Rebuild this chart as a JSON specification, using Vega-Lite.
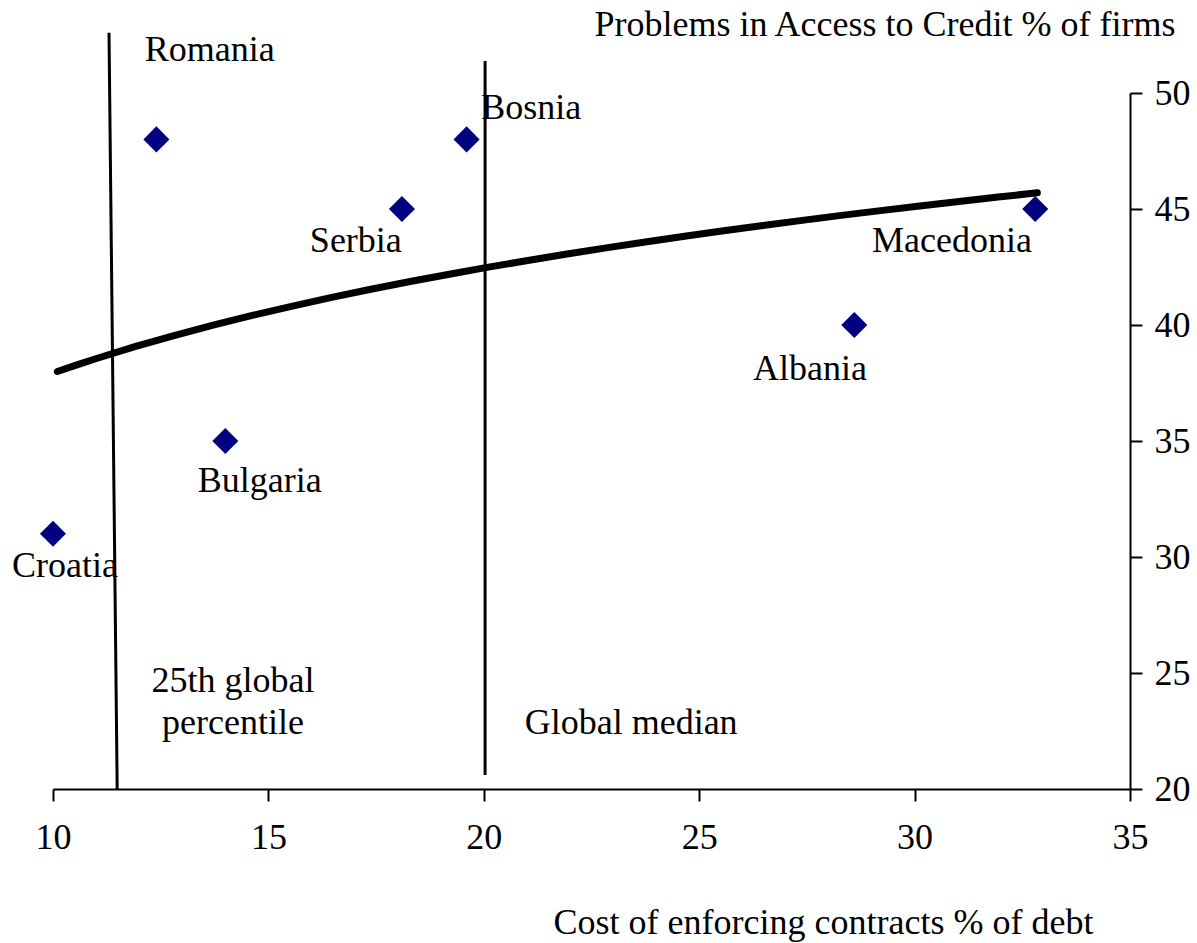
{
  "$schema": "https://vega.github.io/schema/vega-lite/v6.json",
  "width": 1077,
  "height": 696,
  "autosize": "none",
  "padding": {"left": 53, "top": 93, "right": 67, "bottom": 154},
  "background": "white",
  "config": {
    "view": {"stroke": null},
    "font": "Liberation Serif",
    "axis": {"grid": false, "domainColor": "black", "domainWidth": 2, "tickColor": "black", "tickWidth": 2, "tickSize": 12, "labelFont": "Liberation Serif", "labelFontSize": 36, "labelColor": "black", "labelFlush": false, "labelOverlap": false, "titleFont": "Liberation Serif", "titleFontSize": 36, "titleFontWeight": "normal", "titleColor": "black"}
  },
  "datasets": {
    "pts": [
      {"country": "Romania", "cost": 12.4, "credit": 48},
      {"country": "Bosnia", "cost": 19.6, "credit": 48},
      {"country": "Serbia", "cost": 18.1, "credit": 45},
      {"country": "Macedonia", "cost": 32.8, "credit": 45},
      {"country": "Albania", "cost": 28.6, "credit": 40},
      {"country": "Bulgaria", "cost": 14.0, "credit": 35},
      {"country": "Croatia", "cost": 10.0, "credit": 31}
    ],
    "labels": [
      {"text": "Romania", "lx": 13.64, "ly": 51.85},
      {"text": "Bosnia", "lx": 21.1, "ly": 49.35},
      {"text": "Serbia", "lx": 17.03, "ly": 43.62},
      {"text": "Macedonia", "lx": 30.87, "ly": 43.62},
      {"text": "Albania", "lx": 27.57, "ly": 38.1},
      {"text": "Bulgaria", "lx": 14.8, "ly": 33.28},
      {"text": "Croatia", "lx": 10.28, "ly": 29.61},
      {"text": "25th global", "lx": 14.18, "ly": 24.66},
      {"text": "percentile", "lx": 14.18, "ly": 22.84},
      {"text": "Global median", "lx": 23.42, "ly": 22.84}
    ],
    "refs": [
      {"name": "25th global percentile", "xa": 11.3, "ya": 52.6, "xb": 11.49, "yb": 20},
      {"name": "Global median", "xa": 20.03, "ya": 51.38, "xb": 20.03, "yb": 20.6}
    ]
  },
  "layer": [
    {
      "data": {"name": "refs"},
      "mark": {"type": "rule", "color": "black", "strokeWidth": 3},
      "encoding": {
        "x": {"field": "xa", "type": "quantitative", "scale": {"domain": [10, 35], "nice": false},
          "axis": {"values": [10, 15, 20, 25, 30, 35], "orient": "bottom", "labelPadding": 19, "title": "Cost of enforcing contracts % of debt", "titleX": 770, "titleY": 144, "titleAlign": "center", "titleBaseline": "alphabetic", "titleAnchor": null}},
        "y": {"field": "ya", "type": "quantitative", "scale": {"domain": [20, 50], "nice": false},
          "axis": {"values": [20, 25, 30, 35, 40, 45, 50], "orient": "right", "labelPadding": 12, "labelBaseline": "middle", "title": "Problems in Access to Credit % of firms", "titleAngle": 0, "titleX": 45, "titleY": -58, "titleAlign": "right", "titleBaseline": "alphabetic", "titleAnchor": null}},
        "x2": {"field": "xb"},
        "y2": {"field": "yb"}
      }
    },
    {
      "data": {"name": "pts"},
      "transform": [{"regression": "credit", "on": "cost", "method": "log", "extent": [10.1, 32.85]}],
      "mark": {"type": "line", "color": "black", "strokeWidth": 7, "strokeCap": "round"},
      "encoding": {
        "x": {"field": "cost", "type": "quantitative"},
        "y": {"field": "credit", "type": "quantitative"}
      }
    },
    {
      "data": {"name": "pts"},
      "mark": {"type": "point", "shape": "diamond", "filled": true, "color": "#000080", "size": 680, "opacity": 1},
      "encoding": {
        "x": {"field": "cost", "type": "quantitative"},
        "y": {"field": "credit", "type": "quantitative"}
      }
    },
    {
      "data": {"name": "labels"},
      "mark": {"type": "text", "font": "Liberation Serif", "fontSize": 36, "color": "black", "align": "center", "baseline": "middle"},
      "encoding": {
        "x": {"field": "lx", "type": "quantitative"},
        "y": {"field": "ly", "type": "quantitative"},
        "text": {"field": "text"}
      }
    }
  ]
}
